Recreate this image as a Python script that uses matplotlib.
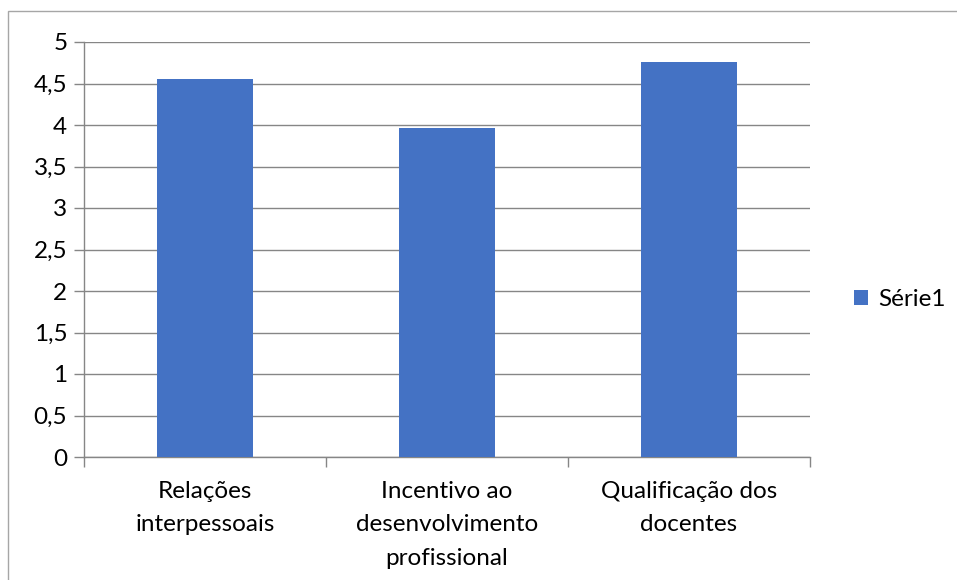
import matplotlib.pyplot as plt
from matplotlib.patches import Rectangle

# Data
categorias = ['Relações\ninterpessoais',
              'Incentivo ao\ndesenvolvimento\nprofissional',
              'Qualificação dos\ndocentes']
valores = [4.56, 3.96, 4.76]
serie = 'Série1'
yticks = [0, 0.5, 1, 1.5, 2, 2.5, 3, 3.5, 4, 4.5, 5]
ytick_labels = ['0', '0,5', '1', '1,5', '2', '2,5', '3', '3,5', '4', '4,5', '5']

plt.rcParams['font.family'] = ['Lato', 'DejaVu Sans']
cor_barra = '#4472C4'
cor_eixo = '#868686'
fs = 17.5

fig = plt.figure(figsize=(9.57, 5.8), dpi=100)
ax = fig.add_axes([84 / 957, 1 - 457 / 580, (810 - 84) / 957, (457 - 42) / 580])

# outer chart border
fig.patches.append(Rectangle((8 / 957, -0.1), 1.2, 1 - 11 / 580 + 0.1,
                             transform=fig.transFigure, fill=False,
                             edgecolor='#A6A6A6', linewidth=1))

x = range(len(categorias))
ax.bar(x, valores, width=0.4, color=cor_barra, label=serie, zorder=3)

ax.set_xlim(-0.5, 2.5)
ax.set_ylim(0, 5)
ax.set_yticks(yticks)
ax.set_yticklabels(ytick_labels, fontsize=fs)
ax.set_xticks(list(x))
ax.set_xticklabels(categorias, fontsize=fs, linespacing=1.75)
ax.set_xticks([-0.5, 0.5, 1.5, 2.5], minor=True)
ax.tick_params(axis='x', which='major', length=0, pad=17)
ax.tick_params(axis='x', which='minor', length=7, color=cor_eixo, width=1)
ax.tick_params(axis='y', length=7, color=cor_eixo, width=1, pad=5)

ax.grid(axis='y', color=cor_eixo, linewidth=1, zorder=0)
for s in ['top', 'right']:
    ax.spines[s].set_visible(False)
for s in ['left', 'bottom']:
    ax.spines[s].set_color(cor_eixo)
    ax.spines[s].set_linewidth(1)

ax.legend(loc='center left', bbox_to_anchor=(1.03, 0.38), frameon=False,
          fontsize=fs, handlelength=0.6, handleheight=0.6, handletextpad=0.4)

fig.savefig('out.png', dpi=100)
